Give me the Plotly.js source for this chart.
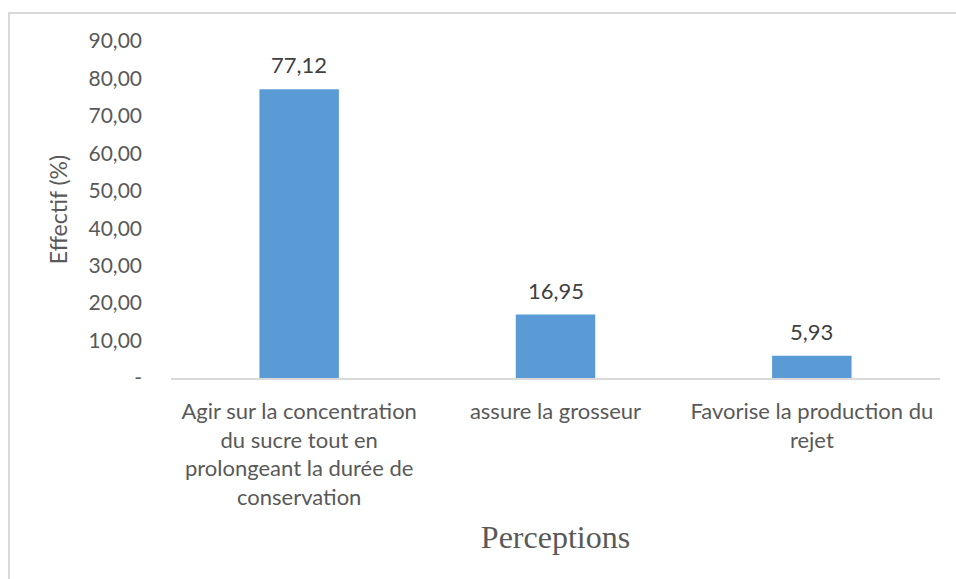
<!DOCTYPE html>
<html>
<head>
<meta charset="utf-8">
<script src="https://cdn.plot.ly/plotly-3.0.1.min.js"></script>
<style>
  body { margin: 0; background: #fff; }
  #frame { position: absolute; left: 8px; top: 12px; width: 948px; height: 567px;
           border-top: 2px solid #d9d9d9; border-left: 2px solid #d9d9d9; }
  #plot { position: absolute; left: 0; top: 0; width: 956px; height: 579px; }
</style>
</head>
<body>
<div id="frame"></div>
<div id="plot"></div>
<script>
const categories = [
  "Agir sur la concentration<br>du sucre tout en<br>prolongeant la durée de<br>conservation",
  "assure la grosseur",
  "Favorise la production du<br>rejet"
];
const values = [77.12, 16.95, 5.93];
const yTickVals = [0, 10, 20, 30, 40, 50, 60, 70, 80, 90];
const yTickText = ["-", "10,00", "20,00", "30,00", "40,00", "50,00", "60,00", "70,00", "80,00", "90,00"];

const grey = "#595959";

const trace = {
  x: categories,
  y: values,
  type: 'bar',
  marker: { color: '#5b9bd5' },
  hoverinfo: 'skip'
};

// value labels above each bar
const labels = categories.map((c, i) => ({
  x: c, y: values[i], xref: 'x', yref: 'y',
  text: values[i].toFixed(2).replace('.', ','),
  showarrow: false, yanchor: 'bottom', yshift: 9,
  font: { family: 'Lato, sans-serif', size: 22, color: '#404040' }
}));

const layout = {
  width: 956, height: 579,
  margin: { l: 171, r: 16, t: 41, b: 201 },
  paper_bgcolor: 'rgba(0,0,0,0)',
  plot_bgcolor: 'rgba(0,0,0,0)',
  bargap: 0.69,
  showlegend: false,
  separators: ',.',
  xaxis: {
    showgrid: false, zeroline: false,
    showline: true, linecolor: '#d9d9d9', linewidth: 1.5,
    ticks: '', ticklabelstandoff: 13,
    tickfont: { family: 'Lato, sans-serif', size: 22, color: grey },
    title: { text: 'Perceptions', standoff: 17,
             font: { family: 'Liberation Serif, serif', size: 32, color: grey } },
    automargin: false
  },
  yaxis: {
    range: [0, 90],
    showgrid: false, zeroline: false, showline: false,
    tickvals: yTickVals, ticktext: yTickText,
    ticks: '', ticklabelstandoff: 28,
    tickfont: { family: 'Lato, sans-serif', size: 21, color: grey },
    title: { text: 'Effectif (%)', standoff: 14,
             font: { family: 'Lato, sans-serif', size: 23, color: grey } },
    automargin: false
  },
  annotations: labels
};

Plotly.newPlot('plot', [trace], layout, { staticPlot: true });
</script>
</body>
</html>
